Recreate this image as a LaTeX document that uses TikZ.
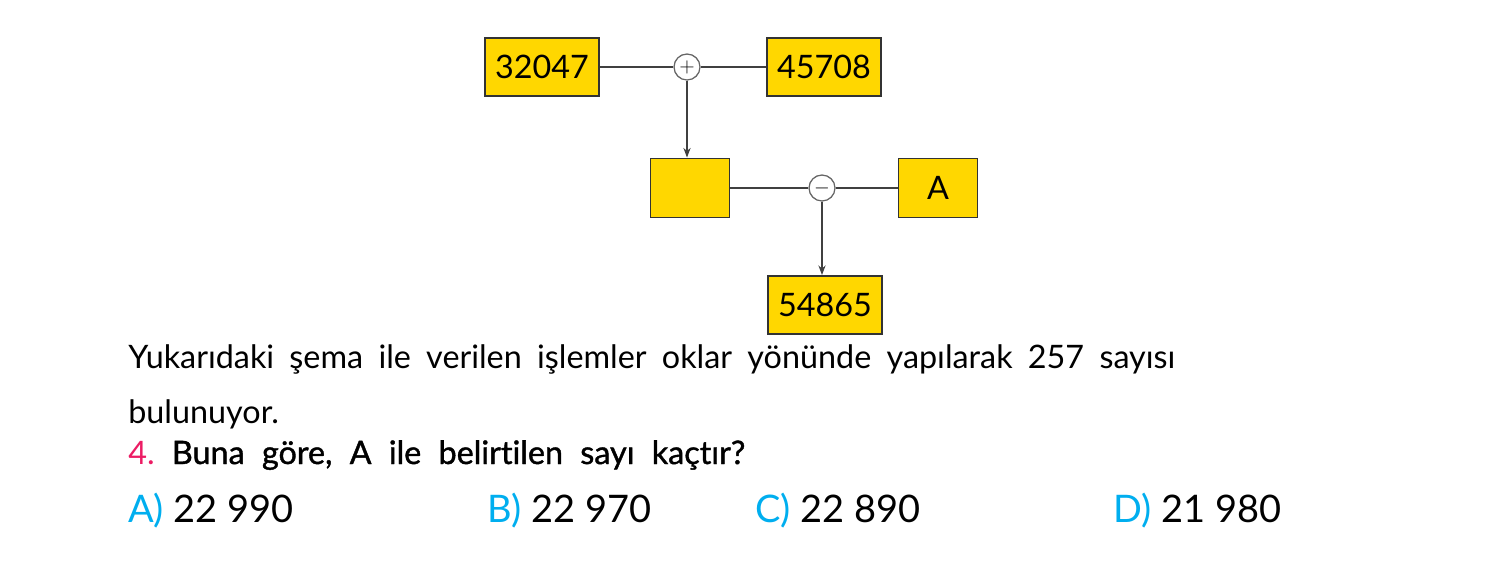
\documentclass[tikz,border=0pt]{standalone}
\usepackage{fontspec}
\setmainfont{Lato}[Ligatures=NoCommon]
\newfontfamily\semibold{Lato}[Ligatures=NoCommon, FakeBold=1.2]
\usetikzlibrary{arrows.meta}
\definecolor{boxyellow}{HTML}{FFD700}
\definecolor{qpink}{HTML}{EC1C64}
\definecolor{acyan}{HTML}{00AEEF}
\frenchspacing
\tikzset{
  box/.style={draw=black!80, line width=1.4pt, fill=boxyellow, inner sep=0pt,
    font=\fontsize{23}{27}\selectfont},
  numbox/.style={box, minimum width=28.5mm, minimum height=14.5mm},
  smallbox/.style={box, minimum width=19.75mm, minimum height=14.75mm},
  op/.style={circle, draw=black!60, line width=0.9pt, fill=white, minimum size=6.5mm,
    inner sep=0pt, font=\fontsize{14}{16}\selectfont},
  link/.style={draw=black!75, line width=1pt},
  arr/.style={link, -{Stealth[length=2.4mm, width=1.8mm]}},
  txt/.style={anchor=base west, inner sep=0pt, font=\fontsize{23}{27}\selectfont},
  ans/.style={anchor=base west, inner sep=0pt, font=\fontsize{27}{32}\selectfont}
}
\begin{document}
\begin{tikzpicture}[x=0.25mm, y=-0.25mm]
\useasboundingbox (0,0) rectangle (1488,572);
% scheme
\foreach \n/\x/\y/\t in {a/542/67/32047, b/824/67/45708, r/825/305/54865}
    \node[numbox] (\n) at (\x,\y) {\t};
\node[smallbox] (m) at (690,188) {};
\node[smallbox] (A) at (938,188) {A};
\node[op] (p) at (687,67) {$+$};
\node[op] (q) at (822,188) {$-$};
\foreach \i/\j in {a/p, p/b, m/q, q/A}
    \draw[link] (\i) -- (\j);
\draw[arr] (p) -- (p |- m.north);
\draw[arr] (q) -- (q |- r.north);
% question
\node[txt] (l1) at (128,368) {\makebox[261.75mm][s]{Yukarıdaki şema ile verilen işlemler oklar yönünde yapılarak 257 sayısı}};
\node[txt] (l2) at (128,423) {bulunuyor.};
\node[txt] (l3) at (128,464) {\makebox[154.25mm][s]{\textcolor{qpink}{4.} \semibold Buna göre, A ile belirtilen sayı kaçtır?}};
\foreach \l/\x/\v in {A/128/22 990, B/487/22 970, C/755/22 890, D/1113/21 980}
    \node[ans] (ans\l) at (\x,522) {\textcolor{acyan}{\l)} \v};
\end{tikzpicture}
\end{document}
